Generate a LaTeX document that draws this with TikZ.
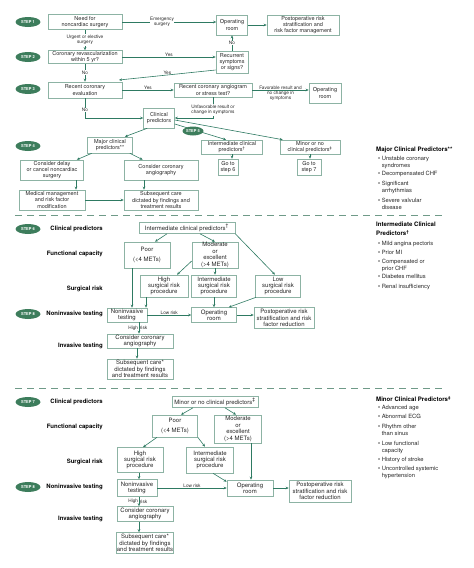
\documentclass[tikz,border=0pt]{standalone}
\usepackage{fontspec}
\setmainfont{TeX Gyre Heros}
\usetikzlibrary{shapes.geometric,arrows.meta}
\definecolor{stepgreen}{HTML}{3D7D5C}
\definecolor{linegreen}{HTML}{2E7A62}
\definecolor{boxgreen}{HTML}{8DB3A4}
\definecolor{dashgreen}{HTML}{6F9A88}

\begin{document}
\begin{tikzpicture}[x=1pt,y=-1pt,
  box/.style={draw=boxgreen, line width=0.6pt, fill=white, align=center, inner sep=0.8pt, text=black!85, font=\fontsize{5.5}{6.2}\selectfont},
  bigbox/.style={box, inner sep=0.5pt, font=\fontsize{6}{6.4}\selectfont},
  stepoval/.style={ellipse, fill=stepgreen, text=white, inner sep=0pt, minimum width=25pt, minimum height=10pt, font=\fontsize{4}{4}\selectfont\bfseries},
  arr/.style={draw=linegreen, line width=0.6pt, -{Stealth[length=3pt,width=2.6pt]}},
  lab/.style={align=center, inner sep=0.6pt, text=black!85, font=\fontsize{4.7}{5.4}\selectfont},
  rowhead/.style={anchor=east, inner sep=0pt, font=\fontsize{6}{7}\selectfont\bfseries},
  keyhead/.style={anchor=west, align=left, inner sep=0pt, font=\fontsize{6.1}{9}\selectfont\bfseries},
  keyitem/.style={anchor=north west, align=left, inner sep=0pt, text=black!85, font=\fontsize{5.8}{6.6}\selectfont},
  sep/.style={draw=dashgreen, line width=1pt, dash pattern=on 7pt off 5pt}]
\useasboundingbox (0,0) rectangle (474,568);

\node[stepoval] (s1) at (28,22) {STEP 1};
\node[stepoval] (s2) at (28,57) {STEP 2};
\node[stepoval] (s3) at (28,89) {STEP 3};
\node[stepoval] (s4) at (28,146) {STEP 4};

\node[box, minimum width=74, minimum height=15] (need) at (85,22) {Need for\\noncardiac surgery};
\node[box, minimum width=31, minimum height=20] (op1) at (232,25) {Operating\\room};
\node[box, minimum width=72, minimum height=20] (post1) at (303,25) {Postoperative risk\\stratification and\\risk factor management};
\node[box, minimum width=74, minimum height=13] (revasc) at (85,57) {Coronary revascularization\\within 5 yr?};
\node[box, minimum width=32, minimum height=22] (recur) at (232,62) {Recurrent\\symptoms\\or signs?};
\node[box, minimum width=74, minimum height=16] (recent) at (85,90) {Recent coronary\\evaluation};
\node[box, minimum width=78, minimum height=14] (angio) at (213,90) {Recent coronary angiogram\\or stress test?};
\node[box, minimum width=32, minimum height=20] (op2) at (325,93) {Operating\\room};
\node[box, minimum width=31, minimum height=20] (clin) at (159,118) {Clinical\\predictors};
\node[box, minimum width=45, minimum height=16] (major) at (110,145) {Major clinical\\predictors**};
\node[box, minimum width=61, minimum height=14] (inter) at (232,147) {Intermediate clinical\\predictors\textsuperscript{\textdagger}};
\node[box, minimum width=60, minimum height=14] (minor) at (310,147) {Minor or no\\clinical predictors\textsuperscript{\textdaggerdbl}};
\node[box, minimum width=63, minimum height=20] (delay) at (52,170) {Consider delay\\or cancel noncardiac\\surgery};
\node[box, minimum width=74, minimum height=20] (cangio) at (161,170) {Consider coronary\\angiography};
\node[box, minimum width=66, minimum height=20] (medical) at (52,200) {Medical management\\and risk factor\\modification};
\node[box, minimum width=74, minimum height=20] (care) at (161,200) {Subsequent care\\dictated by findings and\\treatment results};
\node[box, minimum width=20, minimum height=16] (goto6) at (228,167) {Go to\\step 6};
\node[box, minimum width=24, minimum height=16] (goto7) at (309,167) {Go to\\step 7};

\draw[arr] (need.east) -- (need.east -| op1.west);
\node[lab, fill=white] at (162,22) {Emergency\\surgery};
\draw[arr] (op1) -- (post1);
\draw[arr] (need) -- (revasc) node[lab, midway, fill=white] {Urgent or elective\\surgery};
\draw[arr] (revasc.east) -- (revasc.east -| recur.west) node[lab, midway, above] {Yes};
\draw[arr] (recur) -- (op1) node[lab, midway, fill=white] {No};
\coordinate (yesend) at (119,80);
\draw[arr] (recur.west |- 0,70) -- (yesend) node[lab, midway, above] {Yes};
\draw[arr] (revasc) -- (recent) node[lab, midway, fill=white] {No};
\draw[arr] (recent) -- (angio) node[lab, midway, above] {Yes};
\draw[arr] (angio.east) -- (angio.east -| op2.west) node[lab, midway, above] {Favorable result and} node[lab, midway, below] {no change in\\symptoms};
\draw[arr] (angio.south) -- (angio.south |- clin.east) -- (clin.east);
\node[lab, fill=white] at (213,110) {Unfavorable result or\\change in symptoms};
\draw[arr] (recent.south) |- (clin.west) node[lab, pos=0.3, fill=white] {No};
\draw[arr] ([xshift=4]clin.south west) -- ([xshift=-8]major.north east);
\draw[arr] ([yshift=-6]clin.east) -- ([xshift=-6]inter.north);
\draw[arr] ([yshift=-2]clin.east) -- ([xshift=3]minor.north west);
\node[stepoval, minimum width=21pt, minimum height=9pt] (s5) at (193,131) {STEP 5};
\draw[arr] ([xshift=4.5]major.south west) -- ([xshift=-7]delay.north east);
\draw[arr] ([xshift=-3]major.south east) -- ([xshift=19]cangio.north west);
\draw[arr] (delay.south -| 76,0) -- (medical.north -| 76,0);
\draw[arr] (cangio.south -| 144,0) -- (care.north -| 144,0);
\draw[arr] (medical.east) -- (medical.east -| care.west);
\draw[arr] (inter.south) -- (inter.south |- goto6.north);
\draw[arr] (minor.south) -- (minor.south |- goto7.north);

\node[keyhead] (majkey) at (376,150) {Major Clinical Predictors**};
\node[keyitem] at (378,156) {\textbullet\ Unstable coronary\\\phantom{\textbullet\ }syndromes};
\node[keyitem] at (378,171) {\textbullet\ Decompensated CHF};
\node[keyitem] at (378,181) {\textbullet\ Significant\\\phantom{\textbullet\ }arrhythmias};
\node[keyitem] at (378,198) {\textbullet\ Severe valvular\\\phantom{\textbullet\ }disease};

\draw[sep] (15,215) -- (446,215);

\node[stepoval] (s6) at (28,229) {STEP 6};
\node[stepoval] (s8a) at (28,314) {STEP 8};
\node[rowhead] at (103,229) {Clinical predictors};
\node[rowhead] at (103,254) {Functional capacity};
\node[rowhead] at (103,289) {Surgical risk};
\node[rowhead] at (103,314) {Noninvasive testing};
\node[rowhead] at (103,346) {Invasive testing};

\node[bigbox, minimum width=96, minimum height=11] (inter2) at (187,228) {Intermediate clinical predictors\textsuperscript{\textdagger}};
\node[bigbox, minimum width=46, minimum height=26] (poor2) at (147,255) {Poor\\[4pt](<4 METs)};
\node[bigbox, minimum width=46, minimum height=26] (mod2) at (215,255) {Moderate\\or\\excellent\\(>4 METs)};
\node[bigbox, minimum width=48, minimum height=22] (high2) at (164,286) {High\\surgical risk\\procedure};
\node[bigbox, minimum width=45, minimum height=22] (isurg2) at (214,286) {Intermediate\\surgical risk\\procedure};
\node[bigbox, minimum width=45, minimum height=22] (low2) at (278,286) {Low\\surgical risk\\procedure};
\node[bigbox, minimum width=40, minimum height=14] (noninv2) at (127,315) {Noninvasive\\testing};
\node[bigbox, minimum width=45, minimum height=15] (op3) at (214,315) {Operating\\room};
\node[bigbox, minimum width=60, minimum height=21] (post2) at (284,318) {Postoperative risk\\stratification and risk\\factor reduction};
\node[bigbox, minimum width=66, minimum height=14] (cons2) at (140,341) {Consider coronary\\angiography};
\node[bigbox, minimum width=66, minimum height=20] (subs2) at (140,369) {Subsequent care*\\dictated by findings\\and treatment results};

\draw[arr] ([xshift=-20]inter2.south) -- ([xshift=8]poor2.north);
\draw[arr] ([xshift=13]inter2.south) -- (mod2.north);
\draw[arr] (inter2.south east) -- ([xshift=-3]low2.north);
\draw[arr] ([yshift=-6]mod2.west) -- ([xshift=13]high2.north);
\draw[arr] (mod2.south) -- (mod2.south |- isurg2.north);
\draw[arr] (poor2.south -| 132,0) -- (noninv2.north -| 132,0);
\draw[arr] (high2.south -| 146,0) -- (noninv2.north -| 146,0);
\draw[arr] (isurg2.south) -- (isurg2.south |- op3.north);
\draw[arr] ([xshift=-22]low2.south) -- ([xshift=-8]op3.north east);
\draw[arr] (noninv2.east) -- (noninv2.east -| op3.west) node[lab, midway, above] {Low risk};
\draw[arr] (op3.east) -- (op3.east -| post2.west);
\draw[arr] (noninv2.south -| 139,0) -- (cons2.north -| 139,0) node[lab, midway, left] {High} node[lab, midway, right] {risk};
\draw[arr] (cons2.south -| 137,0) -- (subs2.north -| 137,0);

\node[keyhead, anchor=north west, align=left] (intkey) at (376,222) {Intermediate Clinical\\Predictors\textsuperscript{\textdagger}};
\node[keyitem] at (378,241) {\textbullet\ Mild angina pectoris};
\node[keyitem] at (378,250) {\textbullet\ Prior MI};
\node[keyitem] at (378,259) {\textbullet\ Compensated or\\\phantom{\textbullet\ }prior CHF};
\node[keyitem] at (378,274) {\textbullet\ Diabetes mellitus};
\node[keyitem] at (378,284) {\textbullet\ Renal insufficiency};

\draw[sep] (15,388) -- (446,388);

\node[stepoval] (s7) at (28,402) {STEP 7};
\node[stepoval] (s8b) at (28,487) {STEP 8};
\node[rowhead] at (103,402) {Clinical predictors};
\node[rowhead] at (103,427) {Functional capacity};
\node[rowhead] at (103,462) {Surgical risk};
\node[rowhead] at (103,487) {Noninvasive testing};
\node[rowhead] at (103,519) {Invasive testing};

\node[bigbox, minimum width=86, minimum height=11] (minor3) at (215,402) {Minor or no clinical predictors\textsuperscript{\textdaggerdbl}};
\node[bigbox, minimum width=45, minimum height=22] (poor3) at (175,426) {Poor\\[3pt](<4 METs)};
\node[bigbox, minimum width=47, minimum height=28] (mod3) at (238,429) {Moderate\\or\\excellent\\(>4 METs)};
\node[bigbox, minimum width=46, minimum height=25] (high3) at (140,460) {High\\surgical risk\\procedure};
\node[bigbox, minimum width=47, minimum height=26] (isurg3) at (210,460) {Intermediate\\surgical risk\\procedure};
\node[bigbox, minimum width=40, minimum height=17] (noninv3) at (137,488) {Noninvasive\\testing};
\node[bigbox, minimum width=46, minimum height=16] (op4) at (250,488) {Operating\\room};
\node[bigbox, minimum width=62, minimum height=22] (post3) at (320,491) {Postoperative risk\\stratification and risk\\factor reduction};
\node[bigbox, minimum width=56, minimum height=15] (cons3) at (145,514) {Consider coronary\\angiography};
\node[bigbox, minimum width=56, minimum height=21] (subs3) at (145,543) {Subsequent care*\\dictated by findings\\and treatment results};

\draw[arr] ([xshift=-22]minor3.south) -- ([xshift=6]poor3.north);
\draw[arr] ([xshift=10]minor3.south) -- ([xshift=-2]mod3.north);
\draw[arr] ([xshift=-18]poor3.south) -- ([xshift=3]high3.north);
\draw[arr] (poor3.south east) -- ([xshift=-5]isurg3.north);
\draw[arr] (mod3.south -| 251,0) -- (op4.north -| 251,0);
\draw[arr] ([xshift=3]isurg3.south) -- ([yshift=-2]op4.north west);
\draw[arr] (high3.south -| 139,0) -- (noninv3.north -| 139,0);
\draw[arr] (noninv3.east) -- (noninv3.east -| op4.west) node[lab, midway, above] {Low risk};
\draw[arr] (op4.east) -- (op4.east -| post3.west);
\draw[arr] (noninv3.south -| 139,0) -- (cons3.north -| 139,0) node[lab, midway, left] {High} node[lab, midway, right] {risk};
\draw[arr] (cons3.south -| 139,0) -- (subs3.north -| 139,0);

\node[keyhead] (minkey) at (376,399) {Minor Clinical Predictors\textsuperscript{\textdaggerdbl}};
\node[keyitem] at (378,405) {\textbullet\ Advanced age};
\node[keyitem] at (378,414) {\textbullet\ Abnormal ECG};
\node[keyitem] at (378,424) {\textbullet\ Rhythm other\\\phantom{\textbullet\ }than sinus};
\node[keyitem] at (378,441) {\textbullet\ Low functional\\\phantom{\textbullet\ }capacity};
\node[keyitem] at (378,457) {\textbullet\ History of stroke};
\node[keyitem] at (378,466) {\textbullet\ Uncontrolled systemic\\\phantom{\textbullet\ }hypertension};
\end{tikzpicture}
\end{document}
